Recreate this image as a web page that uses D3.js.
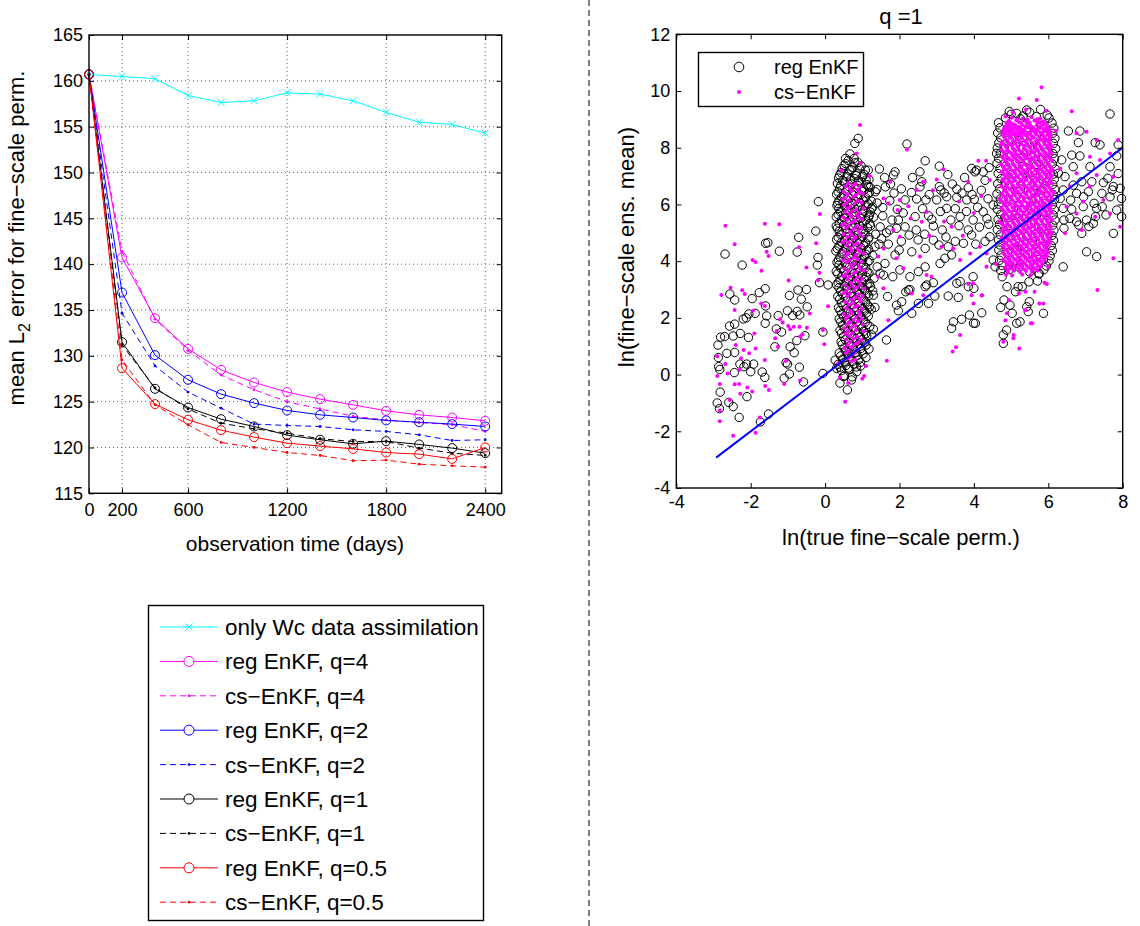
<!DOCTYPE html>
<html lang="en">
<head>
<meta charset="utf-8">
<title>EnKF error and ensemble mean scatter</title>
<style>
  body { margin: 0; padding: 0; background: #fff; }
  #chart svg { display: block; font-family: "Liberation Sans", Arial, Helvetica, sans-serif; }
  .tick text { font-size: 18px; fill: #000; }
  .tick line { stroke: #000; }
</style>
</head>
<body>
<div id="chart"></div>
<script src="https://cdn.jsdelivr.net/npm/d3@7"></script>
<script>

// ---- left panel: error vs. observation time ----
var days = [0, 200, 400, 600, 800, 1000, 1200, 1400, 1600, 1800, 2000, 2200, 2400];
var onlyWc = [160.7, 160.47, 160.22, 158.4, 157.64, 157.82, 158.69, 158.55, 157.82, 156.55, 155.49, 155.24, 154.29];
var reg4 = [160.7, 140.73, 134.1, 130.76, 128.47, 127.09, 126.04, 125.27, 124.65, 124.0, 123.56, 123.27, 122.91];
var cs4 = [160.7, 141.4, 134.0, 130.6, 127.9, 126.3, 125.0, 124.2, 123.4, 123.0, 122.7, 122.5, 121.75];
var reg2 = [160.7, 136.9, 130.07, 127.38, 125.82, 124.84, 124.04, 123.56, 123.27, 122.95, 122.76, 122.55, 122.29];
var cs2 = [160.7, 134.65, 128.9, 126.04, 124.29, 122.55, 122.4, 122.29, 121.93, 121.75, 121.38, 120.76, 120.84];
var reg1 = [160.7, 131.49, 126.4, 124.36, 123.09, 122.29, 121.35, 120.84, 120.4, 120.69, 120.33, 119.93, 119.38];
var cs1 = [160.7, 131.2, 126.5, 124.2, 122.65, 122.04, 121.56, 120.95, 120.65, 120.65, 119.93, 119.38, 119.13];
var reg05 = [160.7, 128.65, 124.73, 123.02, 121.89, 121.13, 120.47, 120.15, 119.85, 119.45, 119.27, 118.76, 120.0];
var cs05 = [160.7, 129.56, 124.65, 122.47, 120.55, 120.0, 119.45, 119.13, 118.55, 118.62, 118.18, 118.0, 117.85];
var xTicksLeft = [0, 200, 600, 1200, 1800, 2400];
var yTicksLeft = [115, 120, 125, 130, 135, 140, 145, 150, 155, 160, 165];

// ---- right panel: ln(ensemble mean) vs ln(true) for q=1 ----
var xTicksRight = [-4, -2, 0, 2, 4, 6, 8];
var yTicksRight = [-4, -2, 0, 2, 4, 6, 8, 10, 12];
var diagX = [-2.93, 7.97];
var diagY = [-2.93, 7.97];

var regSparse = [
  [-0.25,5.06],[-0.71,4.84],[-1.60,4.63],[-1.54,4.65],[-2.69,4.25],[-2.23,3.86],[-1.23,4.35],[-0.75,4.32],[-0.19,4.13],[-0.21,3.86],
  [-0.15,3.24],[0.08,3.16],[-2.56,2.84],[-2.43,2.63],[-1.96,2.68],[-1.77,2.89],[-1.61,3.03],[-0.96,2.79],[-0.73,2.98],[-0.50,3.00],
  [-0.64,2.66],[-0.48,2.39],[-1.60,2.42],[-1.26,2.08],[-1.01,2.25],[-0.75,2.23],[-0.68,2.10],[-0.87,2.08],[-2.57,1.71],[-2.43,1.78],
  [-2.20,1.96],[-2.12,2.00],[-2.05,2.14],[-1.88,2.16],[-1.57,2.07],[-1.61,1.81],[-1.31,1.61],[-1.17,1.50],[-2.28,1.45],[-2.47,1.36],
  [-2.70,1.34],[-2.81,1.32],[-2.88,1.04],[-2.06,1.31],[-1.35,0.98],[-0.94,0.98],[-0.76,1.20],[-0.54,1.37],[-0.06,1.50],[-0.83,0.77],
  [-2.64,0.75],[-2.43,0.78],[-2.87,0.60],[-2.86,0.28],[-2.83,0.18],[-2.29,0.37],[-2.11,0.37],[-1.92,0.37],[-2.18,0.28],[-2.00,0.10],
  [-2.44,0.07],[-1.69,0.09],[-1.62,-0.10],[-1.05,0.42],[-1.01,0.37],[-0.69,0.26],[-0.96,0.02],[-1.10,-0.13],[-0.58,-0.26],[-0.06,0.04],
  [-2.82,-0.62],[-2.10,-0.78],[-2.90,-1.00],[-2.59,-0.98],[-2.47,-1.13],[-2.84,-1.20],[-2.31,-1.51],[-1.74,-1.67],[-1.52,-1.39],[-0.18,6.10],
  [2.20,8.13],[1.46,7.25],[1.16,7.21],[1.88,7.15],[1.84,7.04],[2.69,7.54],[3.07,7.35],[2.55,7.15],[3.94,7.27],[4.03,7.15],
  [4.25,7.15],[4.61,7.80],[1.76,6.72],[1.39,6.53],[2.60,6.80],[3.07,6.63],[3.11,6.51],[3.54,6.54],[3.85,6.59],[4.07,7.21],
  [4.41,7.30],[2.46,6.19],[2.71,6.16],[3.00,6.16],[3.27,6.27],[3.54,6.25],[3.81,6.16],[4.01,6.18],[1.74,6.13],[2.15,6.16],
  [1.94,5.83],[1.55,5.89],[2.42,5.57],[2.87,5.47],[2.91,5.24],[3.27,5.86],[3.38,5.45],[3.63,5.57],[3.98,5.45],[4.25,5.74],
  [4.52,5.98],[4.43,4.86],[2.15,5.21],[1.92,5.16],[1.74,5.10],[1.52,4.80],[1.34,4.51],[1.48,5.21],[1.97,5.45],[2.26,4.92],
  [2.33,4.33],[2.69,4.45],[2.91,4.74],[3.06,4.57],[3.31,4.51],[3.40,4.22],[3.72,4.63],[3.94,4.92],[3.09,3.92],[3.22,4.10],
  [1.99,4.39],[1.88,4.22],[1.61,3.92],[1.48,3.57],[1.57,3.51],[1.82,3.45],[2.01,3.69],[2.28,3.45],[2.51,3.63],[2.69,3.80],
  [2.73,3.16],[2.91,3.24],[2.28,3.00],[4.00,3.04],[3.63,3.28],[3.98,3.45],[4.57,3.80],[4.52,4.04],
  [1.62,6.62],[1.85,6.40],[2.05,6.55],[2.32,6.42],[2.55,6.62],[2.80,6.35],[3.20,6.40],[3.42,6.72],[3.68,6.40],[3.95,6.35],
  [4.20,6.50],[4.38,6.20],[1.55,5.60],[1.80,5.45],[2.10,5.70],[2.62,5.85],[2.78,5.60],[3.10,5.75],[3.50,5.85],[3.80,5.75],
  [4.10,5.90],[4.35,5.50],[1.65,5.00],[2.45,5.10],[2.68,4.95],[3.15,5.10],[3.60,5.25],[3.85,5.10],[4.15,5.20],[4.40,5.30],
  [1.70,4.60],[2.05,4.70],[2.50,4.75],[3.25,4.85],[3.50,4.70],[4.05,4.60],[4.30,4.70],[1.60,6.95],[2.35,6.95],[3.30,7.05],
  [3.75,6.95],[4.30,6.85],
  [1.34,2.37],[1.65,1.22],[1.68,2.75],[1.92,2.45],[1.97,2.25],[2.06,2.57],[2.17,2.92],[2.24,2.98],[2.33,2.16],[2.51,2.51],
  [2.69,3.10],[2.78,2.51],[2.95,2.77],[3.31,2.77],[3.54,3.22],[3.58,2.72],[3.45,1.86],[3.40,1.63],[3.67,1.95],[3.85,3.10],
  [3.88,2.10],[3.99,1.81],[4.21,2.18],[4.72,2.37],[4.79,1.40],[4.79,1.10],[4.88,1.57],[4.97,2.45],[5.15,1.81],[5.24,1.86],
  [5.19,3.10],[5.42,2.39],[5.46,2.22],[5.49,2.57],[5.87,2.16],[5.71,3.30],[4.76,3.45],[4.89,3.10],[5.12,2.92],[5.30,3.10],
  [5.48,3.27],[5.75,3.57],[4.81,2.63],[5.03,2.16],[4.04,1.81],
  [1.35,6.45],[1.40,6.05],[1.30,5.55],[1.36,4.95],[1.45,4.60],[1.40,3.80],[1.32,3.40],[1.28,2.95],[1.30,1.60],
  [7.66,9.19],[6.54,8.59],[6.85,8.59],[6.81,8.18],[7.26,8.18],[7.39,8.10],[7.88,8.10],[7.84,7.71],[6.85,7.71],[6.63,7.74],
  [6.36,7.57],[6.67,7.33],[7.12,7.33],[7.66,7.33],[7.88,7.09],[6.45,6.98],[6.67,6.68],[6.90,6.80],[7.17,6.80],[7.48,6.77],
  [7.75,6.63],[7.93,6.57],[6.40,6.51],[6.76,6.39],[7.08,6.45],[7.44,6.39],[7.66,6.27],[7.97,6.21],[6.40,5.86],[6.63,5.83],
  [6.94,5.92],[7.30,5.86],[7.84,5.80],[7.97,5.57],[6.58,5.51],[6.76,5.39],[7.03,5.45],[7.21,5.33],[6.90,4.98],[7.75,4.98],
  [7.03,4.33],[7.30,4.16],[6.40,3.80],[6.27,7.10],[6.32,6.21],[7.23,6.04],[7.45,5.92],[7.55,5.63],[7.27,5.57],[6.82,5.27],
  [6.42,5.16],[7.09,5.22],[6.42,5.45],[7.60,6.92],[7.72,6.51],[6.95,6.27],[6.60,6.15]
];

var regMidCluster = [
  [0.62,7.55],[0.88,7.48],[0.51,7.38],[0.74,7.31],[0.97,7.36],[0.43,7.12],[0.66,7.19],[0.85,7.08],[1.08,7.21],
  [0.36,6.93],[0.58,6.98],[0.79,6.91],[1.01,6.99],[1.18,6.88],[0.33,6.74],[0.52,6.79],[0.71,6.72],[0.93,6.77],[1.12,6.70],
  [0.39,6.57],[0.61,6.52],[0.84,6.58],[1.05,6.51],[1.21,6.60],[0.31,6.36],[0.49,6.31],[0.72,6.38],[0.95,6.33],[1.15,6.37],
  [0.37,6.13],[0.57,6.18],[0.80,6.11],[1.02,6.16],[1.24,6.12],[0.32,5.96],[0.53,5.92],[0.68,5.98],[0.89,5.93],[1.10,5.97],[1.28,5.91],
  [0.41,5.74],[0.62,5.78],[0.83,5.72],[1.04,5.77],[1.22,5.73],[0.30,5.56],[0.50,5.52],[0.74,5.57],[0.96,5.51],[1.17,5.55],
  [0.38,5.33],[0.59,5.37],[0.81,5.31],[1.01,5.36],[1.20,5.32],[0.33,5.16],[0.55,5.12],[0.77,5.17],[0.99,5.13],[1.14,5.18],
  [0.42,4.94],[0.64,4.98],[0.86,4.92],[1.07,4.97],[0.31,4.76],[0.52,4.72],[0.73,4.78],[0.93,4.73],[1.16,4.77],
  [0.37,4.53],[0.60,4.57],[0.82,4.51],[1.04,4.56],[0.29,4.36],[0.48,4.33],[0.69,4.38],[0.90,4.32],[1.12,4.37],
  [0.40,4.14],[0.63,4.18],[0.85,4.12],[1.06,4.17],[0.32,3.96],[0.54,3.92],[0.76,3.97],[0.97,3.93],[1.15,3.98],
  [0.43,3.74],[0.65,3.78],[0.88,3.72],[1.09,3.77],[0.34,3.56],[0.56,3.52],[0.78,3.57],[1.00,3.53],[1.18,3.58],
  [0.40,3.33],[0.62,3.37],[0.84,3.31],[1.05,3.36],[0.31,3.16],[0.52,3.12],[0.73,3.17],[0.94,3.13],[1.13,3.18],
  [0.42,2.94],[0.64,2.98],[0.87,2.92],[1.07,2.97],[0.34,2.76],[0.55,2.72],[0.77,2.77],[0.98,2.73],[1.17,2.78],
  [0.44,2.53],[0.66,2.57],[0.89,2.51],[1.09,2.56],[0.36,2.36],[0.57,2.32],[0.79,2.37],[1.01,2.33],[1.19,2.38],
  [0.45,2.14],[0.68,2.18],[0.91,2.12],[1.11,2.17],[0.38,1.96],[0.59,1.92],[0.81,1.97],[1.03,1.93],
  [0.47,1.74],[0.70,1.78],[0.92,1.72],[1.13,1.77],[0.40,1.56],[0.61,1.52],[0.83,1.57],[1.04,1.53],
  [0.49,1.34],[0.72,1.38],[0.94,1.32],[1.12,1.37],[0.43,1.16],[0.64,1.12],[0.86,1.17],[1.06,1.13],
  [0.51,0.94],[0.74,0.98],[0.96,0.92],[0.38,0.76],[0.60,0.72],[0.83,0.77],[1.02,0.73],
  [0.47,0.54],[0.69,0.58],[0.90,0.52],[0.35,0.36],[0.56,0.32],[0.78,0.37],[0.44,0.14],[0.66,0.18],[0.52,-0.04],[0.73,-0.08],
  [0.55,7.44],[0.80,7.47],[0.46,7.26],[0.70,7.23],[0.92,7.27],[0.39,7.04],[0.61,7.07],[0.83,7.02],[1.05,7.06],
  [0.47,6.84],[0.68,6.87],[0.90,6.83],[1.10,6.86],[0.42,6.66],[0.64,6.63],[0.87,6.67],[1.16,6.64],
  [0.35,6.44],[0.56,6.47],[0.78,6.43],[0.99,6.46],[1.19,6.42],[0.44,6.26],[0.66,6.23],[0.88,6.27],[1.09,6.24],
  [0.34,6.04],[0.48,6.07],[0.73,6.03],[0.94,6.06],[1.16,6.02],[0.37,5.86],[0.58,5.83],[0.79,5.87],[1.00,5.84],[1.25,5.86],
  [0.35,5.64],[0.55,5.67],[0.78,5.63],[1.00,5.66],[1.19,5.62],[0.44,5.46],[0.66,5.43],[0.87,5.47],[1.09,5.44],
  [0.30,5.24],[0.50,5.27],[0.70,5.23],[0.92,5.26],[1.22,5.24],[0.38,5.06],[0.60,5.03],[0.82,5.07],[1.03,5.04],
  [0.35,4.84],[0.56,4.87],[0.78,4.83],[0.99,4.86],[1.18,4.84],[0.44,4.66],[0.66,4.63],[0.87,4.67],[1.09,4.64],
  [0.33,4.44],[0.55,4.47],[0.76,4.43],[0.98,4.46],[1.17,4.42],[0.45,4.26],[0.67,4.23],[0.89,4.27],[1.10,4.24],
  [0.36,4.04],[0.58,4.07],[0.80,4.03],[1.01,4.06],[1.19,4.02],[0.37,3.86],[0.59,3.83],[0.81,3.87],[1.03,3.84],
  [0.30,3.64],[0.50,3.67],[0.71,3.63],[0.93,3.66],[1.13,3.62],[0.45,3.46],[0.67,3.43],[0.89,3.47],[1.11,3.44],
  [0.35,3.24],[0.57,3.27],[0.79,3.23],[1.00,3.26],[1.19,3.22],[0.37,3.06],[0.59,3.03],[0.81,3.07],[1.02,3.04],
  [0.47,2.84],[0.69,2.87],[0.92,2.83],[1.13,2.86],[0.39,2.66],[0.61,2.63],[0.83,2.67],[1.04,2.64],
  [0.48,2.44],[0.71,2.47],[0.94,2.43],[1.14,2.46],[0.40,2.26],[0.62,2.23],[0.85,2.27],[1.06,2.24],
  [0.50,2.04],[0.73,2.07],[0.96,2.03],[1.16,2.06],[0.42,1.86],[0.64,1.83],[0.87,1.87],[1.08,1.84],
  [0.52,1.64],[0.75,1.67],[0.98,1.63],[0.44,1.46],[0.66,1.43],[0.89,1.47],[1.09,1.44],[0.54,1.24],[0.77,1.27],[0.99,1.23],
  [0.46,1.06],[0.68,1.03],[0.90,1.07],[1.10,1.04],[0.55,0.84],[0.78,0.87],[0.98,0.83],[0.42,0.66],[0.64,0.63],[0.86,0.67],
  [0.52,0.44],[0.74,0.47],[0.95,0.43],[0.40,0.26],[0.62,0.23],[0.84,0.27],
  [0.27,0.51],[0.31,0.22],[0.49,-0.07],[0.71,-0.19],[0.60,-0.54],[0.67,7.78],[0.80,8.15],[0.89,8.33],[0.55,7.62],[0.78,7.62],
  [1.28,4.20],[1.30,2.80],[1.25,1.40],[0.40,-0.30],[0.85,0.10],[0.95,0.30],[1.10,0.60],[1.18,0.90],[1.20,1.70],[1.24,2.30],[1.22,3.10]
];

var regRightCluster = [
  [4.66,8.88],[4.70,8.70],[4.64,8.52],[4.72,8.35],[4.67,8.17],[4.63,7.99],[4.71,7.81],[4.66,7.63],[4.62,7.45],[4.70,7.27],
  [4.65,7.09],[4.73,6.91],[4.64,6.73],[4.69,6.55],[4.62,6.37],[4.71,6.19],[4.66,6.01],[4.63,5.83],[4.72,5.65],[4.65,5.47],
  [4.69,5.29],[4.63,5.11],[4.71,4.93],[4.66,4.75],[4.70,4.57],[4.67,4.39],[4.73,4.21],[4.69,4.03],[4.75,3.85],[4.72,3.67],
  [6.02,9.05],[6.10,8.87],[6.15,8.69],[6.12,8.51],[6.18,8.33],[6.14,8.15],[6.20,7.97],[6.13,7.79],[6.17,7.61],[6.11,7.43],
  [6.19,7.25],[6.14,7.07],[6.16,6.89],[6.12,6.71],[6.18,6.53],[6.13,6.35],[6.17,6.17],[6.11,5.99],[6.16,5.81],[6.13,5.63],
  [6.18,5.45],[6.12,5.27],[6.15,5.09],[6.10,4.91],[6.14,4.73],[6.08,4.55],[6.11,4.37],[6.05,4.19],[6.02,4.01],[5.95,3.83],[5.88,3.70],
  [4.85,9.05],[5.00,9.18],[5.15,9.21],[5.32,9.12],[5.50,9.25],[5.68,9.10],[5.79,9.35],[5.97,9.15],[5.42,9.33],[5.25,9.02],[4.95,9.28],
  [4.88,8.62],[5.21,8.55],[5.47,8.71],[5.76,8.58],[4.95,8.28],[5.30,8.36],[5.62,8.22],[5.90,8.40],[4.82,7.98],[5.12,8.05],
  [5.43,7.91],[5.71,8.02],[5.98,7.87],[4.97,7.70],[5.26,7.62],[5.55,7.75],[5.83,7.58],[4.86,7.36],[5.14,7.44],[5.40,7.30],
  [5.69,7.41],[5.95,7.24],[5.02,7.08],[5.30,6.97],[5.58,7.12],[5.86,6.99],[4.84,6.78],[5.12,6.70],[5.41,6.83],[5.70,6.66],
  [5.97,6.80],[4.97,6.45],[5.25,6.54],[5.52,6.40],[5.81,6.51],[4.86,6.16],[5.13,6.25],[5.40,6.08],[5.67,6.20],[5.94,6.05],
  [5.00,5.88],[5.28,5.79],[5.56,5.93],[5.84,5.75],[4.83,5.55],[5.11,5.62],[5.39,5.48],[5.68,5.59],[5.96,5.43],[4.98,5.26],
  [5.26,5.17],[5.53,5.31],[5.82,5.14],[4.87,4.94],[5.15,5.02],[5.42,4.87],[5.70,4.99],[5.97,4.84],[5.01,4.63],[5.29,4.55],
  [5.57,4.70],[5.85,4.51],[4.90,4.30],[5.18,4.39],[5.45,4.23],[5.73,4.34],[5.05,3.98],[5.33,4.07],[5.61,3.92],[5.87,4.05],
  [4.95,3.70],[5.22,3.78],[5.50,3.62],[5.75,3.55]
];

var csSparse = [
  [-2.68,5.25],[-1.62,5.32],[-1.23,5.30],[-2.43,4.60],[-0.70,4.49],[-0.24,4.63],[-1.57,4.33],[-1.52,4.18],[-1.95,4.04],[-1.87,3.97],
  [-1.71,3.66],[-0.50,3.78],[-0.15,3.59],[-0.19,3.33],[-0.98,3.32],[-2.54,3.06],[-2.79,2.81],[-2.23,2.97],[-2.16,2.84],[-2.43,2.28],
  [-1.94,2.25],[-1.62,2.42],[-1.72,2.51],[-1.21,1.95],[-1.14,1.84],[-0.99,1.71],[-0.84,1.69],[-0.69,1.69],[-0.49,1.65],[-1.30,1.54],
  [-0.94,1.60],[-0.61,1.41],[-0.41,2.15],[0.08,2.41],[-0.06,1.57],[-0.02,1.07],[-1.90,1.45],[-1.87,0.92],[-2.04,0.75],[-2.19,0.87],
  [-2.26,0.58],[-2.40,1.04],[-1.62,0.51],[-1.34,1.28],[-1.27,0.98],[-0.67,1.34],[-1.05,0.48],[-2.31,0.17],[-2.90,0.65],[-2.68,0.37],
  [-2.62,0.04],[-2.90,-0.05],[-2.83,-0.33],[-2.43,-0.34],[-2.31,-0.33],[-2.09,-0.46],[-1.96,-0.60],[-1.61,-0.40],[-1.51,-0.54],[-1.10,-0.33],
  [-0.67,-0.21],[-2.28,-0.68],[-2.56,-0.90],[-2.83,-1.27],[-2.83,-1.65],[-2.47,-2.16],[-1.87,-2.05],[-1.75,-1.51],[-0.14,5.66],
  [0.94,8.80],[2.20,7.94],[3.18,7.24],[2.64,6.80],[4.12,7.54],[4.43,6.86],[3.85,6.80],[3.00,6.88],[2.46,6.51],[2.01,6.16],
  [1.70,6.04],[1.57,6.21],[2.24,5.94],[2.73,5.74],[2.60,5.39],[3.40,5.21],[3.13,4.51],[3.45,4.45],[3.63,4.04],[3.90,4.27],
  [4.16,4.51],[4.34,4.27],[4.34,3.80],[2.01,4.86],[1.83,5.10],[1.57,4.45],[1.43,4.16],[1.43,3.45],[1.92,4.10],[2.10,3.75],
  [2.55,4.16],[2.73,3.51],[2.86,3.45],[1.57,3.04],[3.98,3.22],[4.33,7.54],
  [1.75,6.80],[2.90,6.50],[3.60,6.10],[4.00,5.70],[2.30,5.50],[3.20,5.40],[3.70,4.90],[1.95,5.80],[4.20,6.30],[2.80,4.90],
  [1.70,1.92],[1.66,0.49],[3.43,0.81],[3.52,0.96],[3.63,1.40],[3.85,3.19],[3.94,2.80],[3.99,2.51],[4.21,2.79],[4.79,1.16],
  [5.06,1.28],[5.22,0.92],[5.53,1.81],[5.87,2.51],[5.96,3.19],[2.64,2.80],[2.33,2.86],
  [4.94,2.63],[5.21,2.86],[5.39,2.92],[5.63,2.92],[5.76,2.51],[4.89,2.16],[5.07,1.40],[5.57,1.81],[4.85,1.92],[5.39,2.28],
  [5.90,3.24],[4.22,2.80],
  [5.82,10.13],[5.21,9.74],[5.69,9.68],[6.63,9.29],[7.03,8.56],[6.76,8.51],[7.30,8.27],[7.88,8.27],[7.66,7.80],[7.12,7.68],
  [7.39,7.57],[6.32,7.27],[6.76,7.10],[7.30,7.04],[7.75,6.98],[6.58,6.63],[7.12,6.63],[7.48,6.16],[6.94,6.10],[6.49,5.92],
  [6.76,5.68],[7.26,5.57],[7.66,5.68],[7.93,5.21],[6.90,5.10],[6.45,4.98],[7.75,4.10],[7.32,2.98]
];

var csMidCluster = [
  [0.62,6.76],[0.81,6.72],[0.55,6.64],[0.74,6.67],[0.95,6.63],[0.66,6.56],[0.87,6.53],[0.50,6.45],[0.71,6.47],[0.92,6.43],
  [0.60,6.36],[0.83,6.33],[1.02,6.37],[0.53,6.24],[0.76,6.27],[0.64,6.15],[0.88,6.13],[0.47,6.17],[0.57,6.06],[0.79,6.03],
  [0.98,6.07],[0.68,5.94],[0.51,5.97],[0.61,5.86],[0.84,5.83],[1.03,5.87],[0.54,5.74],[0.73,5.77],[0.93,5.72],[0.66,5.66],
  [0.86,5.63],[0.49,5.55],[0.70,5.57],[0.90,5.53],[0.59,5.46],[0.80,5.43],[1.00,5.47],[0.52,5.34],[0.72,5.37],[0.63,5.26],
  [0.85,5.23],[0.46,5.27],[0.56,5.16],[0.77,5.13],[0.97,5.17],[0.67,5.04],[0.89,5.07],[0.50,4.96],[0.71,4.93],[0.92,4.97],
  [0.60,4.86],[0.82,4.83],[1.01,4.87],[0.53,4.74],[0.75,4.77],[0.64,4.66],[0.86,4.63],[0.47,4.67],[0.57,4.55],[0.78,4.57],
  [0.96,4.53],[0.68,4.46],[0.88,4.43],[0.51,4.34],[0.72,4.37],[0.93,4.33],[0.61,4.26],[0.83,4.23],[1.03,4.27],[0.54,4.16],
  [0.76,4.13],[0.65,4.04],[0.87,4.07],[0.48,4.03],[0.58,3.96],[0.79,3.93],[0.99,3.97],[0.69,3.86],[0.90,3.83],[0.52,3.74],
  [0.73,3.77],[0.94,3.73],[0.62,3.66],[0.84,3.63],[1.04,3.67],[0.55,3.54],[0.77,3.57],[0.66,3.46],[0.88,3.43],[0.49,3.47],
  [0.59,3.36],[0.80,3.33],[1.00,3.37],[0.70,3.24],[0.91,3.27],[0.53,3.16],[0.74,3.13],[0.95,3.17],[0.63,3.05],[0.85,3.07],
  [1.05,3.03],[0.56,2.94],[0.78,2.97],[0.67,2.86],[0.89,2.83],[0.50,2.87],[0.60,2.76],[0.81,2.73],[1.01,2.77],[0.71,2.64],
  [0.92,2.67],[0.54,2.56],[0.75,2.53],[0.96,2.57],[0.64,2.46],[0.86,2.43],[0.57,2.34],[0.79,2.37],[1.00,2.33],[0.68,2.26],
  [0.90,2.23],[0.51,2.14],[0.72,2.17],[0.93,2.13],[0.62,2.06],[0.84,2.03],[0.55,1.96],[0.76,1.93],[0.97,1.97],[0.66,1.84],
  [0.88,1.87],[0.58,1.76],[0.80,1.73],[1.01,1.77],[0.70,1.66],[0.52,1.63],[0.61,1.54],[0.83,1.57],[1.03,1.53],[0.73,1.46],
  [0.55,1.43],[0.64,1.36],[0.86,1.33],[0.57,1.24],[0.77,1.27],[0.98,1.23],[0.68,1.16],[0.89,1.13],[0.60,1.04],[0.81,1.07],
  [0.71,0.96],[0.52,0.93],[0.63,0.84],[0.85,0.87],[0.56,0.76],[0.76,0.73],[0.67,0.64],[0.59,0.56],[0.80,0.53],[0.70,0.46],
  [0.54,-0.96],[0.62,-0.30],[1.00,-0.15],[0.45,7.20],[1.20,7.00],[0.40,-0.10],[0.95,7.45],[0.85,7.80],[1.10,0.30],[1.05,-0.05],[0.35,0.40]
];

var csRightCluster = [
  [5.02,9.06],[5.31,9.02],[5.55,9.08],[5.78,9.03],[4.93,8.94],[5.14,8.97],[5.40,8.92],[5.63,8.96],[5.86,8.93],
  [5.17,9.00],[5.44,8.99],[5.70,9.00],[4.98,8.90],[5.22,8.90],[5.50,8.89],[5.78,8.90],
  [4.88,8.86],[5.06,8.83],[5.27,8.87],[5.49,8.84],[5.71,8.88],[5.93,8.85],[4.84,8.74],[5.01,8.77],[5.20,8.73],[5.39,8.76],
  [4.92,8.80],[5.11,8.80],[5.30,8.79],[5.49,8.80],[5.69,8.79],[5.88,8.81],
  [5.58,8.72],[5.80,8.77],[5.98,8.74],[4.80,8.66],[4.97,8.63],[5.14,8.67],[5.33,8.64],[5.52,8.68],[5.69,8.63],[5.87,8.66],
  [4.89,8.70],[5.06,8.69],[5.24,8.70],[5.43,8.71],[5.61,8.69],[5.78,8.70],[5.95,8.70],
  [6.02,8.64],[4.79,8.54],[4.95,8.57],[5.11,8.53],[5.26,8.56],[5.45,8.52],[5.62,8.57],[5.79,8.54],[5.95,8.56],[6.05,8.52],
  [4.87,8.60],[5.03,8.59],[5.19,8.61],[5.36,8.60],[5.54,8.59],[5.71,8.61],[5.88,8.60],[6.01,8.58],
  [4.86,8.50],[5.02,8.49],[5.18,8.51],[5.34,8.50],[5.51,8.49],[5.66,8.51],[5.83,8.50],[5.99,8.49],
  [4.77,8.46],[4.93,8.43],[5.06,8.47],[5.24,8.44],[5.37,8.45],[5.55,8.42],[5.68,8.47],[5.86,8.44],[5.98,8.46],[6.07,8.43],
  [4.81,8.39],[4.97,8.37],[5.12,8.40],[5.28,8.38],[5.43,8.41],[5.59,8.37],[5.75,8.40],[5.90,8.38],[6.04,8.39],
  [4.84,8.31],[4.98,8.34],[5.15,8.30],[5.29,8.33],[5.47,8.31],[5.60,8.35],[5.78,8.30],[5.91,8.33],[6.04,8.31],
  [4.89,8.26],[5.05,8.24],[5.20,8.27],[5.36,8.25],[5.52,8.28],[5.67,8.24],[5.83,8.27],[5.98,8.25],
  [4.75,8.20],[4.94,8.17],[5.09,8.21],[5.25,8.18],[5.40,8.20],[5.58,8.17],[5.71,8.21],[5.89,8.18],[6.01,8.20],
  [4.80,8.13],[4.96,8.11],[5.11,8.14],[5.27,8.12],[5.43,8.15],[5.58,8.11],[5.74,8.14],[5.90,8.12],[6.05,8.13],
  [4.86,8.05],[5.02,8.08],[5.17,8.04],[5.35,8.07],[5.48,8.05],[5.66,8.08],[5.79,8.04],[5.97,8.07],[6.09,8.05],
  [4.88,8.00],[5.04,7.98],[5.19,8.01],[5.35,7.99],[5.51,8.02],[5.66,7.98],[5.82,8.01],[5.97,7.99],
  [4.74,7.94],[4.90,7.91],[5.08,7.95],[5.21,7.92],[5.39,7.94],[5.54,7.91],[5.70,7.95],[5.85,7.92],[6.03,7.94],
  [4.79,7.87],[4.95,7.85],[5.10,7.88],[5.26,7.86],[5.42,7.89],[5.57,7.85],[5.73,7.88],[5.89,7.86],[6.04,7.87],
  [4.82,7.79],[4.99,7.82],[5.13,7.78],[5.31,7.81],[5.44,7.79],[5.62,7.82],[5.77,7.78],[5.93,7.81],[6.08,7.79],
  [4.87,7.74],[5.03,7.72],[5.18,7.75],[5.34,7.73],[5.50,7.76],[5.65,7.72],[5.81,7.75],[5.96,7.73],
  [4.76,7.68],[4.92,7.65],[5.07,7.69],[5.23,7.66],[5.38,7.68],[5.56,7.65],[5.69,7.69],[5.87,7.66],[6.00,7.68],
  [4.80,7.61],[4.96,7.59],[5.11,7.62],[5.27,7.60],[5.43,7.63],[5.58,7.59],[5.74,7.62],[5.90,7.60],[6.05,7.61],
  [4.85,7.53],[5.01,7.56],[5.16,7.52],[5.32,7.55],[5.49,7.53],[5.63,7.56],[5.80,7.52],[5.94,7.55],[6.10,7.53],
  [4.88,7.48],[5.04,7.46],[5.19,7.49],[5.35,7.47],[5.51,7.50],[5.66,7.46],[5.82,7.49],[5.97,7.47],
  [4.73,7.42],[4.89,7.39],[5.05,7.43],[5.22,7.40],[5.36,7.42],[5.53,7.39],[5.68,7.43],[5.84,7.40],[6.01,7.42],
  [4.79,7.35],[4.95,7.33],[5.10,7.36],[5.26,7.34],[5.42,7.37],[5.57,7.33],[5.73,7.36],[5.89,7.34],[6.04,7.35],
  [4.81,7.27],[4.97,7.30],[5.14,7.26],[5.28,7.29],[5.45,7.27],[5.60,7.30],[5.76,7.26],[5.92,7.29],[6.07,7.27],
  [4.87,7.22],[5.03,7.20],[5.18,7.23],[5.34,7.21],[5.50,7.24],[5.65,7.20],[5.81,7.23],[5.96,7.21],
  [4.75,7.16],[4.91,7.13],[5.08,7.17],[5.24,7.14],[5.39,7.16],[5.55,7.13],[5.71,7.17],[5.86,7.14],[6.02,7.16],
  [4.80,7.09],[4.96,7.07],[5.11,7.10],[5.27,7.08],[5.43,7.11],[5.58,7.07],[5.74,7.10],[5.90,7.08],[6.05,7.09],
  [4.84,7.01],[5.00,7.04],[5.15,7.00],[5.31,7.03],[5.47,7.01],[5.64,7.04],[5.78,7.00],[5.95,7.03],[6.09,7.01],
  [4.88,6.96],[5.04,6.94],[5.19,6.97],[5.35,6.95],[5.51,6.98],[5.66,6.94],[5.82,6.97],[5.97,6.95],
  [4.77,6.90],[4.93,6.87],[5.09,6.91],[5.26,6.88],[5.40,6.90],[5.57,6.87],[5.72,6.91],[5.88,6.88],[6.03,6.90],
  [4.79,6.83],[4.95,6.81],[5.10,6.84],[5.26,6.82],[5.42,6.85],[5.57,6.81],[5.73,6.84],[5.89,6.82],[6.04,6.83],
  [4.86,6.75],[5.02,6.78],[5.18,6.74],[5.33,6.77],[5.50,6.75],[5.65,6.78],[5.81,6.74],[5.97,6.77],[6.10,6.75],
  [4.87,6.70],[5.03,6.68],[5.18,6.71],[5.34,6.69],[5.50,6.72],[5.65,6.68],[5.81,6.71],[5.96,6.69],
  [4.74,6.64],[4.90,6.61],[5.06,6.65],[5.21,6.62],[5.37,6.64],[5.54,6.61],[5.69,6.65],[5.85,6.62],[6.00,6.64],
  [4.80,6.57],[4.96,6.55],[5.11,6.58],[5.27,6.56],[5.43,6.59],[5.58,6.55],[5.74,6.58],[5.90,6.56],[6.05,6.57],
  [4.82,6.49],[4.98,6.52],[5.13,6.48],[5.30,6.51],[5.46,6.49],[5.61,6.52],[5.77,6.48],[5.93,6.51],[6.08,6.49],
  [4.88,6.44],[5.04,6.42],[5.19,6.45],[5.35,6.43],[5.51,6.46],[5.66,6.42],[5.82,6.45],[5.97,6.43],
  [4.76,6.38],[4.92,6.35],[5.08,6.39],[5.23,6.36],[5.40,6.38],[5.56,6.35],[5.70,6.39],[5.87,6.36],[6.02,6.38],
  [4.79,6.31],[4.95,6.29],[5.10,6.32],[5.26,6.30],[5.42,6.33],[5.57,6.29],[5.73,6.32],[5.89,6.30],[6.04,6.31],
  [4.85,6.23],[5.00,6.26],[5.16,6.22],[5.33,6.25],[5.48,6.23],[5.64,6.26],[5.80,6.22],[5.95,6.25],[6.09,6.23],
  [4.87,6.18],[5.03,6.16],[5.18,6.19],[5.34,6.17],[5.50,6.20],[5.65,6.16],[5.81,6.19],[5.96,6.17],
  [4.73,6.12],[4.89,6.09],[5.05,6.13],[5.22,6.10],[5.36,6.12],[5.53,6.09],[5.68,6.13],[5.84,6.10],[6.01,6.12],
  [4.80,6.05],[4.96,6.03],[5.11,6.06],[5.27,6.04],[5.43,6.07],[5.58,6.03],[5.74,6.06],[5.90,6.04],[6.05,6.05],
  [4.81,5.97],[4.97,6.00],[5.14,5.96],[5.29,5.99],[5.45,5.97],[5.61,6.00],[5.76,5.96],[5.92,5.99],[6.07,5.97],
  [4.88,5.92],[5.04,5.90],[5.19,5.93],[5.35,5.91],[5.51,5.94],[5.66,5.90],[5.82,5.93],[5.97,5.91],
  [4.75,5.86],[4.91,5.83],[5.07,5.87],[5.24,5.84],[5.38,5.86],[5.55,5.83],[5.71,5.87],[5.86,5.84],[6.03,5.86],
  [4.79,5.79],[4.95,5.77],[5.10,5.80],[5.26,5.78],[5.42,5.81],[5.57,5.77],[5.73,5.80],[5.89,5.78],[6.04,5.79],
  [4.84,5.71],[5.01,5.74],[5.16,5.70],[5.32,5.73],[5.47,5.71],[5.63,5.74],[5.79,5.70],[5.94,5.73],[6.09,5.71],
  [4.87,5.66],[5.03,5.64],[5.18,5.67],[5.34,5.65],[5.50,5.68],[5.65,5.64],[5.81,5.67],[5.96,5.65],
  [4.77,5.60],[4.93,5.57],[5.09,5.61],[5.25,5.58],[5.41,5.60],[5.57,5.57],[5.72,5.61],[5.88,5.58],[6.02,5.60],
  [4.80,5.53],[4.96,5.51],[5.11,5.54],[5.27,5.52],[5.43,5.55],[5.58,5.51],[5.74,5.54],[5.90,5.52],[6.05,5.53],
  [4.86,5.45],[5.02,5.48],[5.17,5.44],[5.34,5.47],[5.49,5.45],[5.65,5.48],[5.81,5.44],[5.96,5.47],[6.08,5.45],
  [4.88,5.40],[5.04,5.38],[5.19,5.41],[5.35,5.39],[5.51,5.42],[5.66,5.38],[5.82,5.41],[5.97,5.39],
  [4.74,5.34],[4.90,5.31],[5.06,5.35],[5.22,5.32],[5.38,5.34],[5.54,5.31],[5.69,5.35],[5.85,5.32],[6.00,5.34],
  [4.79,5.27],[4.95,5.25],[5.10,5.28],[5.26,5.26],[5.42,5.29],[5.57,5.25],[5.73,5.28],[5.89,5.26],[6.04,5.27],
  [4.82,5.19],[4.98,5.22],[5.14,5.18],[5.30,5.21],[5.46,5.19],[5.62,5.22],[5.77,5.18],[5.93,5.21],[6.06,5.19],
  [4.87,5.14],[5.03,5.12],[5.18,5.15],[5.34,5.13],[5.50,5.16],[5.65,5.12],[5.81,5.15],[5.96,5.13],
  [4.76,5.08],[4.92,5.05],[5.08,5.09],[5.24,5.06],[5.40,5.08],[5.55,5.05],[5.71,5.09],[5.87,5.06],[6.01,5.08],
  [4.80,5.01],[4.96,4.99],[5.11,5.02],[5.27,5.00],[5.43,5.03],[5.58,4.99],[5.74,5.02],[5.90,5.00],[6.05,5.01],
  [4.85,4.93],[5.01,4.96],[5.16,4.92],[5.32,4.95],[5.48,4.93],[5.64,4.96],[5.79,4.92],[5.95,4.95],[6.07,4.93],
  [4.88,4.88],[5.04,4.86],[5.19,4.89],[5.35,4.87],[5.51,4.90],[5.66,4.86],[5.82,4.89],[5.97,4.87],
  [4.75,4.82],[4.91,4.79],[5.07,4.83],[5.22,4.80],[5.38,4.82],[5.54,4.79],[5.70,4.83],[5.85,4.80],[6.00,4.82],
  [4.79,4.75],[4.95,4.73],[5.10,4.76],[5.26,4.74],[5.42,4.77],[5.57,4.73],[5.73,4.76],[5.89,4.74],[6.02,4.75],
  [4.83,4.67],[4.99,4.70],[5.15,4.66],[5.31,4.69],[5.47,4.67],[5.62,4.70],[5.78,4.66],[5.93,4.69],[6.05,4.67],
  [4.87,4.62],[5.03,4.60],[5.18,4.63],[5.34,4.61],[5.50,4.64],[5.65,4.60],[5.81,4.63],[5.96,4.61],
  [4.77,4.56],[4.93,4.53],[5.09,4.57],[5.25,4.54],[5.41,4.56],[5.57,4.53],[5.72,4.57],[5.88,4.54],[6.01,4.56],
  [4.81,4.49],[4.97,4.47],[5.12,4.50],[5.28,4.48],[5.44,4.51],[5.59,4.47],[5.75,4.50],[5.91,4.48],
  [4.86,4.41],[5.02,4.44],[5.17,4.40],[5.33,4.43],[5.49,4.41],[5.65,4.44],[5.80,4.40],[5.95,4.43],
  [4.90,4.36],[5.06,4.34],[5.21,4.37],[5.37,4.35],[5.53,4.38],[5.68,4.34],[5.84,4.37],[5.97,4.35],
  [4.78,4.30],[4.94,4.27],[5.10,4.31],[5.26,4.28],[5.42,4.30],[5.58,4.27],[5.73,4.31],[5.89,4.28],[6.00,4.30],
  [4.83,4.23],[4.99,4.21],[5.14,4.24],[5.30,4.22],[5.46,4.25],[5.61,4.21],[5.77,4.24],[5.92,4.22],
  [4.87,4.15],[5.03,4.18],[5.19,4.14],[5.35,4.17],[5.50,4.15],[5.66,4.18],[5.82,4.14],[5.96,4.17],
  [4.92,4.10],[5.08,4.08],[5.23,4.11],[5.39,4.09],[5.55,4.12],[5.70,4.08],[5.86,4.11],
  [4.80,4.04],[4.96,4.01],[5.12,4.05],[5.28,4.02],[5.44,4.04],[5.60,4.01],[5.75,4.05],[5.90,4.02],
  [4.86,3.97],[5.02,3.95],[5.17,3.98],[5.33,3.96],[5.49,3.99],[5.64,3.95],[5.80,3.98],
  [4.89,3.89],[5.05,3.92],[5.21,3.88],[5.37,3.91],[5.53,3.89],[5.69,3.92],[5.84,3.88],
  [4.95,3.84],[5.11,3.82],[5.26,3.85],[5.42,3.83],[5.58,3.86],[5.73,3.82],
  [4.83,3.78],[4.99,3.75],[5.15,3.79],[5.31,3.76],[5.47,3.78],[5.63,3.75],[5.78,3.79],
  [4.90,3.71],[5.06,3.69],[5.21,3.72],[5.37,3.70],[5.53,3.73],[5.68,3.69],
  [4.92,3.63],[5.08,3.66],[5.24,3.62],[5.40,3.65],[5.56,3.63],[5.71,3.66],[4.86,3.52],[5.03,3.49],[5.30,3.53],[5.52,3.50],
  [4.70,6.20],[4.68,5.40],[6.12,7.20],[6.14,6.40],[6.10,5.00],[4.72,8.10],[6.20,8.60],[4.60,3.90],[6.00,3.80],
  [5.40,9.35],[5.05,9.25],[5.95,9.30],[4.85,9.10]
];

var W = 1140, H = 926;
var font = '"Liberation Sans", Arial, Helvetica, sans-serif';

var svg = d3.select('#chart').append('svg')
  .attr('width', W)
  .attr('height', H)
  .style('font-family', font);

svg.append('rect').attr('width', W).attr('height', H).attr('fill', '#fff');

// divider between the two panels
svg.append('line')
  .attr('x1', 589).attr('x2', 589).attr('y1', 0).attr('y2', H)
  .attr('stroke', '#000').attr('stroke-width', 1)
  .attr('stroke-dasharray', '6,4');

// helper: axes with inward ticks on all four sides
function drawFrame(g, x, y, xTicks, yTicks, xPad) {
  var x0 = x.range()[0], x1 = x.range()[1];
  var y0 = y.range()[1], y1 = y.range()[0];

  g.append('g').attr('transform', 'translate(0,' + y1 + ')')
    .call(d3.axisBottom(x).tickValues(xTicks).tickSizeInner(-5).tickSizeOuter(0)
      .tickPadding(xPad).tickFormat(function(d) { return String(d); }));
  g.append('g').attr('transform', 'translate(0,' + y0 + ')')
    .call(d3.axisTop(x).tickValues(xTicks).tickSizeInner(-5).tickSizeOuter(0).tickFormat(''));
  g.append('g').attr('transform', 'translate(' + x0 + ',0)')
    .call(d3.axisLeft(y).tickValues(yTicks).tickSizeInner(-5).tickSizeOuter(0)
      .tickPadding(6).tickFormat(function(d) { return String(d); }));
  g.append('g').attr('transform', 'translate(' + x1 + ',0)')
    .call(d3.axisRight(y).tickValues(yTicks).tickSizeInner(-5).tickSizeOuter(0).tickFormat(''));

  g.selectAll('.domain').remove();
  g.selectAll('.tick text').style('font-family', font);

  g.append('rect')
    .attr('x', x0).attr('y', y0)
    .attr('width', x1 - x0).attr('height', y1 - y0)
    .attr('fill', 'none').attr('stroke', '#000').attr('stroke-width', 1.4);
}

// ================= left panel =================
var xL = d3.scaleLinear().domain([0, 2500]).range([89, 501.7]);
var yL = d3.scaleLinear().domain([115, 165]).range([493.3, 35]);

var left = svg.append('g');

// dotted grid
left.append('g').selectAll('line')
  .data(xTicksLeft.filter(function(d) { return d > 0; }))
  .join('line')
  .attr('x1', function(d) { return xL(d); }).attr('x2', function(d) { return xL(d); })
  .attr('y1', yL(165)).attr('y2', yL(115))
  .attr('stroke', '#555').attr('stroke-width', 0.9).attr('stroke-dasharray', '1,3');
left.append('g').selectAll('line')
  .data(yTicksLeft.filter(function(d) { return d > 115 && d < 165; }))
  .join('line')
  .attr('x1', xL(0)).attr('x2', xL(2500))
  .attr('y1', function(d) { return yL(d); }).attr('y2', function(d) { return yL(d); })
  .attr('stroke', '#555').attr('stroke-width', 0.9).attr('stroke-dasharray', '1,3');

var series = [
  { label: 'only Wc data assimilation', values: onlyWc, color: '#00ffff', dashed: false, marker: 'x' },
  { label: 'reg EnKF, q=4', values: reg4, color: '#ff00ff', dashed: false, marker: 'o' },
  { label: 'cs\u2212EnKF, q=4', values: cs4, color: '#ff00ff', dashed: true, marker: '.' },
  { label: 'reg EnKF, q=2', values: reg2, color: '#0000ff', dashed: false, marker: 'o' },
  { label: 'cs\u2212EnKF, q=2', values: cs2, color: '#0000ff', dashed: true, marker: '.' },
  { label: 'reg EnKF, q=1', values: reg1, color: '#000000', dashed: false, marker: 'o' },
  { label: 'cs\u2212EnKF, q=1', values: cs1, color: '#000000', dashed: true, marker: '.' },
  { label: 'reg EnKF, q=0.5', values: reg05, color: '#ff0000', dashed: false, marker: 'o' },
  { label: 'cs\u2212EnKF, q=0.5', values: cs05, color: '#ff0000', dashed: true, marker: '.' }
];

var lineL = d3.line()
  .x(function(d) { return xL(d[0]); })
  .y(function(d) { return yL(d[1]); });

function drawMarker(g, kind, cx, cy, color) {
  if (kind === 'o') {
    g.append('circle').attr('cx', cx).attr('cy', cy).attr('r', 4.5)
      .attr('fill', 'none').attr('stroke', color).attr('stroke-width', 1);
  } else if (kind === '.') {
    g.append('circle').attr('cx', cx).attr('cy', cy).attr('r', 1.4).attr('fill', color);
  } else {
    g.append('path')
      .attr('d', 'M' + (cx - 3.5) + ',' + (cy - 3.5) + 'L' + (cx + 3.5) + ',' + (cy + 3.5) +
                 'M' + (cx - 3.5) + ',' + (cy + 3.5) + 'L' + (cx + 3.5) + ',' + (cy - 3.5))
      .attr('stroke', color).attr('stroke-width', 1);
  }
}

series.forEach(function(s) {
  var pts = days.map(function(d, i) { return [d, s.values[i]]; });
  var g = left.append('g');
  g.append('path').datum(pts)
    .attr('d', lineL)
    .attr('fill', 'none')
    .attr('stroke', s.color)
    .attr('stroke-width', 1)
    .attr('stroke-dasharray', s.dashed ? '6,4' : null);
  pts.forEach(function(p) { drawMarker(g, s.marker, xL(p[0]), yL(p[1]), s.color); });
});

drawFrame(left, xL, yL, xTicksLeft, yTicksLeft, 10);

left.append('text')
  .attr('x', 295).attr('y', 551)
  .attr('text-anchor', 'middle')
  .style('font-size', '21px')
  .text('observation time (days)');

var ylab = left.append('text')
  .attr('transform', 'translate(24,238) rotate(-90)')
  .attr('text-anchor', 'middle')
  .style('font-size', '22px');
ylab.append('tspan').text('mean L');
ylab.append('tspan').attr('dy', 6).style('font-size', '16px').text('2');
ylab.append('tspan').attr('dy', -6).text(' error for fine\u2212scale perm.');

// legend
var leg = svg.append('g');
leg.append('rect')
  .attr('x', 148.5).attr('y', 605.5).attr('width', 335).attr('height', 315)
  .attr('fill', '#fff').attr('stroke', '#000').attr('stroke-width', 1.4);
series.forEach(function(s, i) {
  var cy = 627 + i * 34.4;
  leg.append('line')
    .attr('x1', 160).attr('x2', 218).attr('y1', cy).attr('y2', cy)
    .attr('stroke', s.color).attr('stroke-width', 1)
    .attr('stroke-dasharray', s.dashed ? '6,4' : null);
  if (s.marker === 'o') {
    leg.append('circle').attr('cx', 189).attr('cy', cy).attr('r', 5)
      .attr('fill', '#fff').attr('stroke', s.color).attr('stroke-width', 1);
  } else {
    drawMarker(leg, s.marker, 189, cy, s.color);
  }
  leg.append('text')
    .attr('x', 225).attr('y', cy + 8)
    .style('font-size', '22.5px')
    .text(s.label);
});

// ================= right panel =================
var xR = d3.scaleLinear().domain([-4, 8]).range([676.3, 1122.7]);
var yR = d3.scaleLinear().domain([-4, 12]).range([488, 34.3]);

var right = svg.append('g');

var regAll = regSparse.concat(regMidCluster, regRightCluster);
var csAll = csSparse.concat(csMidCluster, csRightCluster);

right.append('g').selectAll('circle')
  .data(regAll)
  .join('circle')
  .attr('cx', function(d) { return xR(d[0]); })
  .attr('cy', function(d) { return yR(d[1]); })
  .attr('r', 4.2)
  .attr('fill', 'none')
  .attr('stroke', '#000')
  .attr('stroke-width', 1);

right.append('g').selectAll('circle')
  .data(csAll)
  .join('circle')
  .attr('cx', function(d) { return xR(d[0]); })
  .attr('cy', function(d) { return yR(d[1]); })
  .attr('r', 2)
  .attr('fill', '#ff00ff');

right.append('line')
  .attr('x1', xR(diagX[0])).attr('y1', yR(diagY[0]))
  .attr('x2', xR(diagX[1])).attr('y2', yR(diagY[1]))
  .attr('stroke', '#0000ff').attr('stroke-width', 2);

drawFrame(right, xR, yR, xTicksRight, yTicksRight, 7);

right.append('text')
  .attr('x', 901).attr('y', 24)
  .attr('text-anchor', 'middle')
  .style('font-size', '22px')
  .text('q =1');

right.append('text')
  .attr('x', 901).attr('y', 545)
  .attr('text-anchor', 'middle')
  .style('font-size', '22px')
  .text('ln(true fine\u2212scale perm.)');

right.append('text')
  .attr('transform', 'translate(634,247) rotate(-90)')
  .attr('text-anchor', 'middle')
  .style('font-size', '22px')
  .text('ln(fine\u2212scale ens. mean)');

var leg2 = right.append('g');
leg2.append('rect')
  .attr('x', 698.5).attr('y', 52.5).attr('width', 165).attr('height', 54)
  .attr('fill', '#fff').attr('stroke', '#000').attr('stroke-width', 1.4);
leg2.append('circle').attr('cx', 739).attr('cy', 67).attr('r', 4.8)
  .attr('fill', 'none').attr('stroke', '#000').attr('stroke-width', 1);
leg2.append('circle').attr('cx', 739).attr('cy', 92).attr('r', 2).attr('fill', '#ff00ff');
leg2.append('text').attr('x', 774).attr('y', 74).style('font-size', '20px').text('reg EnKF');
leg2.append('text').attr('x', 774).attr('y', 99).style('font-size', '20px').text('cs\u2212EnKF');

</script>
</body>
</html>
